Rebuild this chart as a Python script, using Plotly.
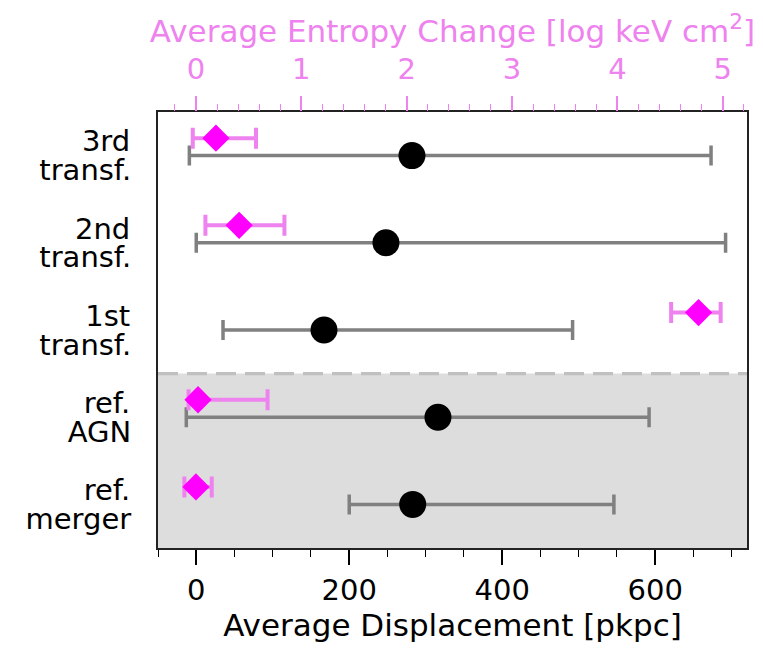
import plotly.graph_objects as go

# Data (bottom -> top)
label_line1 = ["ref.", "ref.", "1st", "2nd", "3rd"]
label_line2 = ["merger", "AGN", "transf.", "transf.", "transf."]
disp_mean = [283, 316, 167, 248, 282]
disp_lo = [200, -13, 35, 0, -9]
disp_hi = [546, 592, 492, 692, 673]
entropy_mean = [0.00, 0.02, 4.77, 0.41, 0.19]
entropy_lo = [-0.11, -0.07, 4.51, 0.09, -0.03]
entropy_hi = [0.15, 0.68, 4.98, 0.84, 0.57]
bottom_ticks = [0, 200, 400, 600]
top_ticks = [0, 1, 2, 3, 4, 5]

ypos = list(range(len(label_line1)))
ypos_ent = [y + 0.2 for y in ypos]
ypos_l1 = [y + 0.165 for y in ypos]
ypos_l2 = [y - 0.165 for y in ypos]

FONT = "DejaVu Sans"
VIOLET = "#ee82ee"
TICK_FS = 29
TITLE_FS = 31

fig = go.Figure()

fig.add_trace(go.Scatter(
    x=disp_mean, y=ypos, mode="markers",
    marker=dict(color="black", size=27, symbol="circle"),
    error_x=dict(type="data", symmetric=False,
                 array=[h - m for h, m in zip(disp_hi, disp_mean)],
                 arrayminus=[m - l for m, l in zip(disp_mean, disp_lo)],
                 color="#808080", thickness=3.5, width=10),
    xaxis="x", yaxis="y", showlegend=False,
))

fig.add_trace(go.Scatter(
    x=entropy_mean, y=ypos_ent, mode="markers",
    marker=dict(color="#ff00ff", size=21, symbol="diamond", line=dict(width=0)),
    error_x=dict(type="data", symmetric=False,
                 array=[h - m for h, m in zip(entropy_hi, entropy_mean)],
                 arrayminus=[m - l for m, l in zip(entropy_mean, entropy_lo)],
                 color=VIOLET, thickness=4, width=10.5),
    xaxis="x2", yaxis="y", showlegend=False,
))

# invisible helper trace so that the second-line label axis is drawn
fig.add_trace(go.Scatter(
    x=disp_mean, y=ypos, mode="markers",
    marker=dict(opacity=0, size=1), hoverinfo="skip",
    xaxis="x", yaxis="y3", showlegend=False,
))

fig.add_shape(type="rect", xref="paper", yref="y", x0=0, x1=1, y0=-0.5, y1=1.5,
              fillcolor="#dddddd", line=dict(width=0), layer="below")
fig.add_shape(type="line", xref="paper", yref="y", x0=0, x1=1, y0=1.5, y1=1.5,
              line=dict(color="#c0c0c0", width=3.3, dash="20px,9px"), layer="below")

yrange = [-0.5, 4.5]

fig.update_layout(
    width=755, height=653,
    margin=dict(l=150, r=16, t=104, b=113),
    paper_bgcolor="white", plot_bgcolor="white",
    font=dict(family=FONT, size=TICK_FS, color="black"),
    xaxis=dict(
        range=[-50, 720], tickvals=bottom_ticks,
        ticks="outside", ticklen=15, tickwidth=1.5, tickcolor="black",
        minor=dict(dtick=50, tick0=0, ticks="outside", ticklen=7, tickwidth=1.2, tickcolor="black"),
        showline=True, linecolor="#222222", linewidth=2, mirror=True,
        showgrid=False, zeroline=False,
        title=dict(text="Average Displacement [pkpc]", font=dict(size=TITLE_FS), standoff=6),
        tickfont=dict(size=TICK_FS),
    ),
    xaxis2=dict(
        overlaying="x", side="top", anchor="y",
        range=[-0.36, 5.23], tickvals=top_ticks,
        ticks="outside", ticklen=15, tickwidth=1.5, tickcolor=VIOLET,
        minor=dict(dtick=0.2, tick0=0, ticks="outside", ticklen=7, tickwidth=1.2, tickcolor=VIOLET),
        showline=False, showgrid=False, zeroline=False,
        ticklabelstandoff=5,
        tickfont=dict(size=TICK_FS, color=VIOLET),
        title=dict(text="Average Entropy Change [log keV cm<sup>2</sup>]",
                   font=dict(size=TITLE_FS, color=VIOLET), standoff=0),
    ),
    yaxis=dict(
        range=yrange, tickvals=ypos_l1, ticktext=label_line1,
        ticks="outside", ticklen=20, tickcolor="rgba(0,0,0,0)",
        showline=True, linecolor="#222222", linewidth=2, mirror=True,
        showgrid=False, zeroline=False,
        tickfont=dict(size=TICK_FS),
    ),
    yaxis3=dict(
        overlaying="y", side="left", anchor="x",
        range=yrange, tickvals=ypos_l2, ticktext=label_line2,
        ticks="outside", ticklen=20, tickcolor="rgba(0,0,0,0)",
        showline=False, showgrid=False, zeroline=False,
        tickfont=dict(size=TICK_FS),
    ),
)

fig.write_html("out.html")
